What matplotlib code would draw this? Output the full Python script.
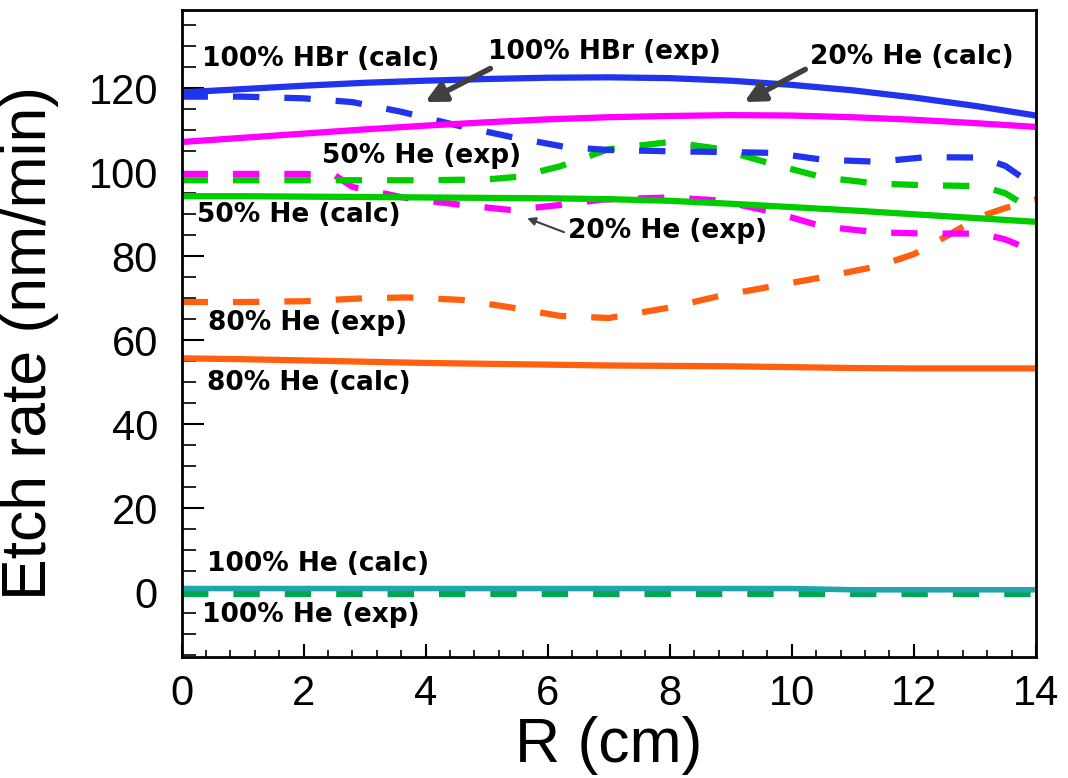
import matplotlib
matplotlib.use("Agg")
import matplotlib.pyplot as plt
from matplotlib.ticker import MultipleLocator

# radius sampling (cm)
r_calc = [0, 1, 2, 3, 4, 5, 6, 7, 8, 9, 10, 11, 12, 13, 14]

# calculated etch rates (nm/min)
hbr_calc = [119.0, 119.8, 120.6, 121.3, 121.8, 122.2, 122.5, 122.6, 122.4, 121.8, 120.8, 119.5, 117.8, 115.8, 113.5]
he20_calc = [107.2, 108.2, 109.2, 110.2, 111.1, 111.9, 112.6, 113.1, 113.4, 113.6, 113.5, 113.1, 112.5, 111.7, 110.8]
he50_calc = [94.3, 94.3, 94.2, 94.1, 94.0, 93.9, 93.8, 93.6, 93.2, 92.5, 91.7, 90.9, 90.0, 89.1, 88.2]
he80_calc = [55.7, 55.5, 55.2, 54.9, 54.6, 54.4, 54.2, 54.0, 53.9, 53.8, 53.6, 53.4, 53.3, 53.3, 53.3]
he100_calc = [0.9, 0.9, 0.9, 0.9, 0.9, 0.9, 0.9, 0.9, 0.9, 0.9, 0.9, 0.6, 0.6, 0.6, 0.6]

# measured etch rates (nm/min)
hbr_exp_r = [0, 1, 2, 2.8, 3.6, 4.5, 5.4, 6.3, 7, 8, 9, 9.7, 10.5, 11.4, 12.2, 13.1, 13.5, 14]
hbr_exp = [118, 118, 117.6, 116.7, 114.4, 111.2, 108.4, 106, 105.3, 105, 104.8, 104.6, 103, 102.5, 103.6, 103.5, 101.5, 96.5]

he20_exp_r = [0, 1, 2, 2.5, 2.8, 3.7, 4.6, 5.4, 6.2, 6.9, 8, 8.8, 9.7, 10.5, 11.4, 12.2, 13.1, 13.5, 14]
he20_exp = [99.6, 99.6, 99.6, 99.4, 96.5, 93.8, 92.2, 91, 92.2, 93.5, 94, 93.3, 90.5, 87.1, 85.7, 85.4, 85.4, 84, 81]

he50_exp_r = [0, 1, 2, 3, 4, 5, 5.5, 6.2, 7, 8, 8.8, 9.7, 10.5, 11.4, 12.2, 13.1, 13.5, 14]
he50_exp = [98.1, 98.1, 98.1, 98.1, 98.1, 98.3, 98.9, 101.4, 105.5, 107.2, 105.6, 101.9, 98.8, 97.3, 96.9, 96.7, 95, 90.5]

he80_exp_r = [0, 1, 2, 3, 3.7, 4.6, 5.4, 6.2, 7, 8, 8.8, 9.7, 10.5, 11.4, 12, 12.5, 13.1, 13.5, 14]
he80_exp = [69.1, 69.1, 69.3, 70, 70.2, 69.6, 67.8, 65.8, 65.3, 67.8, 70.5, 72.9, 75, 77.6, 80.5, 84.5, 89.5, 91.5, 93.5]

he100_exp_r = [0, 14]
he100_exp = [-0.4, -0.4]

plt.rcParams['font.family'] = ['Liberation Sans', 'DejaVu Sans']
plt.rcParams['lines.scale_dashes'] = False

fig = plt.figure(figsize=(10.68, 7.78), dpi=100)
ax = fig.add_axes([0.170, 0.155, 0.800, 0.832])

lw = 4.5
dash = (0, (19, 18))

# experiments (dashed)
ax.plot(he100_exp_r, he100_exp, color='#00a651', lw=lw, linestyle=dash)
ax.plot(he80_exp_r, he80_exp, color='#ff6010', lw=lw, linestyle=dash)
ax.plot(he20_exp_r, he20_exp, color='#ff00ff', lw=lw, linestyle=dash)
ax.plot(he50_exp_r, he50_exp, color='#00cc00', lw=lw, linestyle=dash)
ax.plot(hbr_exp_r, hbr_exp, color='#2233ee', lw=lw, linestyle=dash)

# calculations (solid)
ax.plot(r_calc, he100_calc, color='#1fa5aa', lw=4)
ax.plot(r_calc, he80_calc, color='#ff6010', lw=lw)
ax.plot(r_calc, he50_calc, color='#00cc00', lw=lw)
ax.plot(r_calc, he20_calc, color='#ff00ff', lw=lw)
ax.plot(r_calc, hbr_calc, color='#2233ee', lw=lw)

ax.set_xlim(0, 14)
ax.set_ylim(-15.5, 138.6)
ax.xaxis.set_major_locator(MultipleLocator(2))
ax.xaxis.set_minor_locator(MultipleLocator(0.4))
ax.yaxis.set_major_locator(MultipleLocator(20))
ax.yaxis.set_minor_locator(MultipleLocator(5))

ax.tick_params(axis='x', which='major', direction='in', length=9.5, width=1.5, labelsize=30, pad=12)
ax.tick_params(axis='x', which='minor', direction='in', length=5, width=1.2)
ax.tick_params(axis='y', which='major', direction='in', length=16, width=1.5, labelsize=30, pad=17)
ax.tick_params(axis='y', which='minor', direction='in', length=10, width=1.2)
for s in ax.spines.values():
    s.set_linewidth(2)

ax.set_xlabel('R (cm)', fontsize=45)
ax.set_ylabel('Etch rate (nm/min)', fontsize=45)
ax.xaxis.set_label_coords(0.5, -0.09)
ax.yaxis.set_label_coords(-0.143, 0.485)

# curve labels
lab = dict(fontsize=19, fontweight='bold', family='DejaVu Sans', va='center', ha='left')
ax.text(0.33, 126.9, '100% HBr (calc)', **lab)
ax.text(5.02, 128.6, '100% HBr (exp)', **lab)
ax.text(10.3, 127.4, '20% He (calc)', **lab)
ax.text(2.30, 103.8, '50% He (exp)', **lab)
ax.text(0.25, 89.8, '50% He (calc)', **lab)
ax.text(6.33, 86.0, '20% He (exp)', **lab)
ax.text(0.43, 64.0, '80% He (exp)', **lab)
ax.text(0.41, 49.8, '80% He (calc)', **lab)
ax.text(0.41, 6.7, '100% He (calc)', **lab)
ax.text(0.33, -5.5, '100% He (exp)', **lab)

# arrows
thick = dict(arrowstyle='-|>', color='#404040', lw=4, mutation_scale=30)
ax.annotate('', xy=(3.95, 116.4), xytext=(5.1, 125.0), arrowprops=thick)
ax.annotate('', xy=(9.18, 116.4), xytext=(10.26, 124.8), arrowprops=thick)
ax.annotate('', xy=(5.62, 89.3), xytext=(6.31, 85.5),
            arrowprops=dict(arrowstyle='-|>', color='#404040', lw=1.5, mutation_scale=12))

fig.savefig('out.png', dpi=100)
